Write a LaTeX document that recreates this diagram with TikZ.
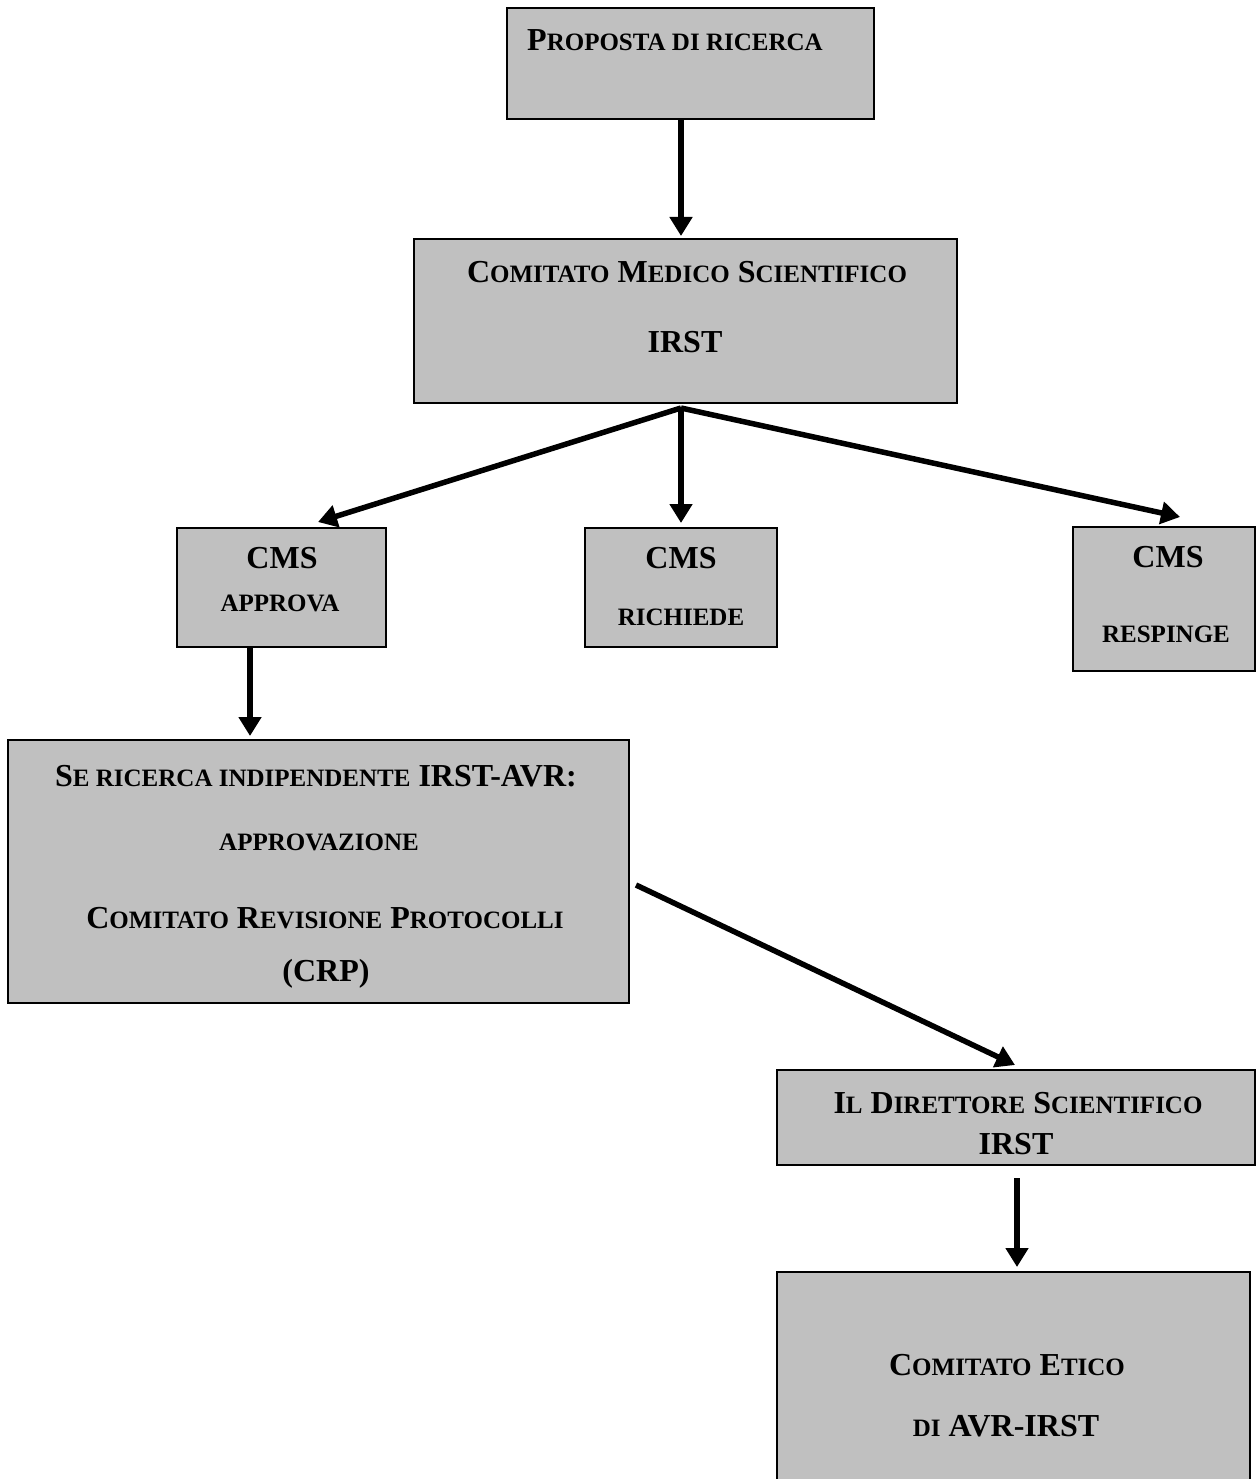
\documentclass[tikz,border=0pt]{standalone}
\usepackage{fontspec}
\setmainfont{Liberation Serif}
\usetikzlibrary{arrows.meta}
\definecolor{boxgrey}{HTML}{C0C0C0}
% fake small caps
\newcommand{\smsz}{25}
\newcommand{\sm}[1]{{\fontsize{\smsz}{\smsz}\selectfont\uppercase{#1}}}
\tikzset{
  box/.style={draw=black, line width=2pt, fill=boxgrey, inner sep=0pt},
  lbl/.style={anchor=base, inner sep=0pt, font=\fontsize{32}{32}\selectfont\bfseries},
  flow/.style={line width=5.5pt, -{Triangle[length=19pt,width=22pt]}},
}
\begin{document}
\begin{tikzpicture}[x=1pt, y=-1pt]
  \useasboundingbox (0,0) rectangle (1255,1479);
  % boxes
  \node [box, minimum width=367pt, minimum height=111pt] (prop) at (690.5,63.5) {};
  \node [box, minimum width=543pt, minimum height=164pt] (cms) at (685.5,321) {};
  \node [box, minimum width=209pt, minimum height=119pt] (appr) at (281.5,587.5) {};
  \node [box, minimum width=192pt, minimum height=119pt] (rich) at (681,587.5) {};
  \node [box, minimum width=182pt, minimum height=144pt] (resp) at (1164,599) {};
  \node [box, minimum width=621pt, minimum height=263pt] (indip) at (318.5,871.5) {};
  \node [box, minimum width=478pt, minimum height=95pt] (dir) at (1016,1117.5) {};
  \node [box, minimum width=473pt, minimum height=223pt] (etico) at (1013.5,1383.5) {};
  % texts
  \node [lbl, anchor=base west] (propT) at (527,51) {P\sm{roposta di ricerca}};
  \node [lbl] (cmsA) at (687,282) {C\sm{omitato} M\sm{edico} S\sm{cientifico}};
  \node [lbl] (cmsB) at (685,352) {IRST};
  \node [lbl] (apprA) at (282,568) {CMS};
  \node [lbl] (apprB) at (280,611) {\sm{approva}};
  \node [lbl] (richA) at (681,568) {CMS};
  \node [lbl] (richB) at (681,625) {\sm{richiede}};
  \node [lbl] (respA) at (1168,567) {CMS};
  \node [lbl] (respB) at (1166,642) {\sm{respinge}};
  \node [lbl] (indipA) at (316,786) {S\sm{e ricerca indipendente} IRST-AVR:};
  \node [lbl] (indipB) at (319,850) {\sm{approvazione}};
  \node [lbl] (indipC) at (325,928) {C\sm{omitato} R\sm{evisione} P\sm{rotocolli}};
  \node [lbl] (indipD) at (326,981) {(CRP)};
  \node [lbl] (dirA) at (1018,1113) {I\sm{l} D\sm{irettore} S\sm{cientifico}};
  \node [lbl] (dirB) at (1016,1154) {IRST};
  \node [lbl] (eticoA) at (1007,1375) {C\sm{omitato} E\sm{tico}};
  \node [lbl] (eticoB) at (1006,1436) {\sm{di} AVR-IRST};
  % connectors
  \coordinate (fork) at ([xshift=-4.5pt, yshift=-4pt]cms.south);
  \draw [flow] ([xshift=-9.5pt]prop.south) -- ([xshift=-4.5pt, yshift=2pt]cms.north);
  \draw [flow] (fork) -- ([xshift=36.5pt, yshift=5pt]appr.north);
  \draw [flow] (fork) -- ([yshift=4pt]rich.north);
  \draw [flow] (fork) -- ([xshift=16pt, yshift=9pt]resp.north);
  \draw [flow] ([xshift=-31.5pt]appr.south) -- ([xshift=-68.5pt, yshift=3pt]indip.north);
  \draw [flow] ([xshift=6pt, yshift=-13.5pt]indip.east) -- ([xshift=-1pt, yshift=4pt]dir.north);
  \draw [flow] ([xshift=1pt, yshift=-12pt]dir.south) -- ([xshift=3.5pt, yshift=4pt]etico.north);
\end{tikzpicture}
\end{document}
